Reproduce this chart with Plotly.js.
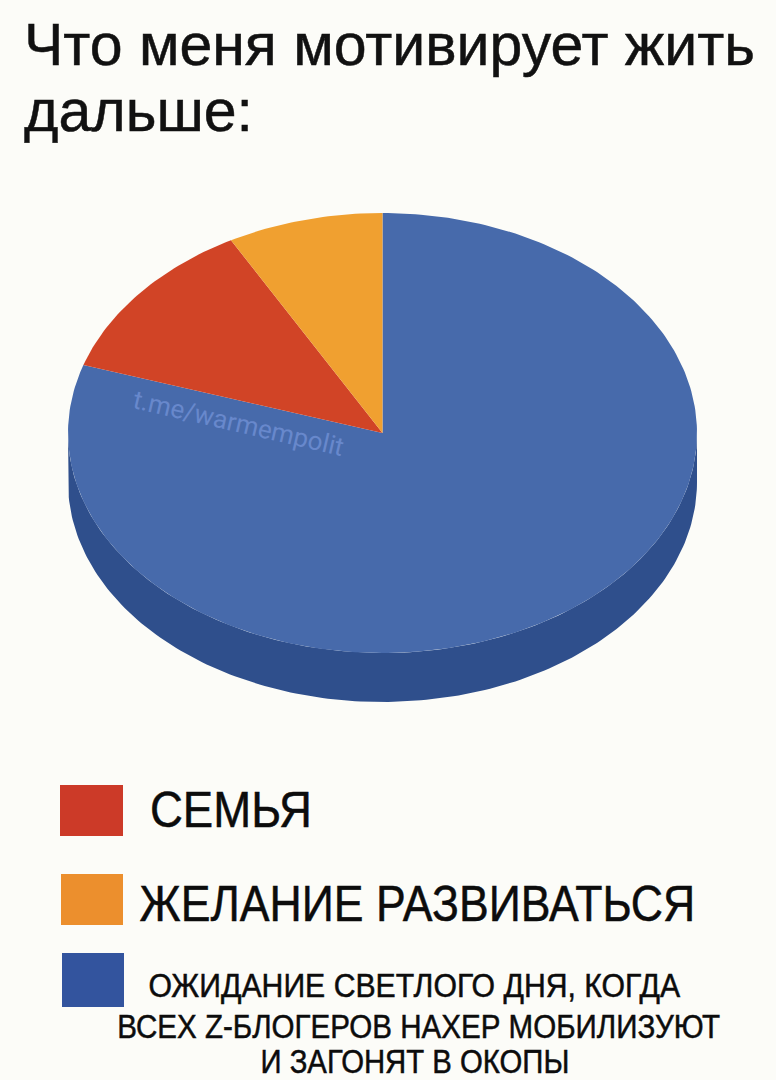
<!DOCTYPE html>
<html><head><meta charset="utf-8">
<script src="https://cdn.plot.ly/plotly-3.0.1.min.js"></script>
<style>html,body{margin:0;padding:0;background:#fcfcf8}</style></head>
<body><div id="chart" style="width:776px;height:1080px"></div>
<script>
// Data
const categories = ["ОЖИДАНИЕ СВЕТЛОГО ДНЯ, КОГДА ВСЕХ Z-БЛОГЕРОВ НАХЕР МОБИЛИЗУЮТ И ЗАГОНЯТ В ОКОПЫ", "СЕМЬЯ", "ЖЕЛАНИЕ РАЗВИВАТЬСЯ"];
const blueLines = ["ОЖИДАНИЕ СВЕТЛОГО ДНЯ, КОГДА", "ВСЕХ Z-БЛОГЕРОВ НАХЕР МОБИЛИЗУЮТ", "И ЗАГОНЯТ В ОКОПЫ"];
const values = [80, 12, 8];
const sliceColors = ["#476aab", "#d14426", "#f0a030"];
const legendColors = ["#33549e", "#cc3a28", "#ec8f2d"];
const sideColor = "#2f4f8c";

// Layout geometry (pixels of the 776x1080 page)
const W = 776, H = 1080, CX = 382.5, CY = 433, RX = 314.5, RY = 220, DEPTH = 49;
const depthU = DEPTH / RY;

function arc(a0, a1, dy) {          // angles clockwise from 12 o'clock, in fractions of the whole
  const xs = [], ys = [], n = Math.max(2, Math.ceil((a1 - a0) * 360));
  for (let i = 0; i <= n; i++) {
    const t = (a0 + (a1 - a0) * i / n) * 2 * Math.PI;
    xs.push(Math.sin(t)); ys.push(Math.cos(t) + dy);
  }
  return [xs, ys];
}

const traces = [];
{
  const [x1, y1] = arc(0.25, 0.75, 0);
  const [x2, y2] = arc(0.25, 0.75, -depthU);
  traces.push({type: "scatter", mode: "lines", x: x1.concat(x2.slice().reverse()), y: y1.concat(y2.slice().reverse()),
    fill: "toself", fillcolor: sideColor, line: {width: 0}, hoverinfo: "skip", showlegend: false});
}
const total = values.reduce((a, b) => a + b, 0);
let acc = 0;
values.forEach((v, i) => {
  const a0 = acc / total, a1 = (acc + v) / total;
  acc += v;
  const [xa, ya] = arc(a0, a1, 0);
  traces.push({type: "scatter", mode: "lines", name: categories[i], x: [0].concat(xa, [0]), y: [0].concat(ya, [0]),
    fill: "toself", fillcolor: sliceColors[i], line: {width: 0}, hoverinfo: "name", showlegend: false});
});

function sq(x0, y0, x1, y1, c) {
  return {type: "rect", xref: "paper", yref: "paper", x0: x0 / W, x1: x1 / W, y0: 1 - y0 / H, y1: 1 - y1 / H,
    fillcolor: c, line: {width: 0}, layer: "above"};
}
function note(text, x, y, size, extra) {
  return Object.assign({text, xref: "paper", yref: "paper", x: x / W, y: 1 - y / H, xanchor: "center", yanchor: "middle",
    showarrow: false, font: {family: "Liberation Sans, Arial, sans-serif", size, color: "#0c0c0c"}}, extra || {});
}

// Target widths of the condensed legend texts, in pixels, same order as the annotations
const textWidths = [162, 556, 532, 603, 309];

const layout = {
  width: W, height: H, margin: {l: 0, r: 0, t: 0, b: 0},
  paper_bgcolor: "#fcfcf8", plot_bgcolor: "rgba(0,0,0,0)", showlegend: false,
  title: {text: "Что меня мотивирует жить<br>дальше:", x: 24 / W, xanchor: "left", y: 1 - 28 / H, yanchor: "top",
    font: {family: "Liberation Sans, Arial, sans-serif", size: 59, color: "#111"}},
  xaxis: {range: [-CX / RX, (W - CX) / RX], visible: false, fixedrange: true},
  yaxis: {range: [-(H - CY) / RY, CY / RY], visible: false, fixedrange: true},
  shapes: [sq(60, 785, 123, 836, legendColors[1]), sq(61, 874, 123, 925, legendColors[2]), sq(62, 953, 124, 1007, legendColors[0])],
  annotations: [
    note(categories[1], 231, 810, 50),
    note(categories[2], 417, 904, 50),
    note(blueLines[0], 414, 985, 33),
    note(blueLines[1], 418, 1026, 33),
    note(blueLines[2], 415, 1061, 33),
    note("t.me/warmempolit", 238, 423, 26, {textangle: 13, font: {family: "Roboto, sans-serif", size: 26, color: "#6888cc"}})
  ]
};
Plotly.newPlot("chart", traces, layout, {displayModeBar: false, staticPlot: true}).then(() => {
  document.querySelectorAll("#chart .annotation-text").forEach((el, i) => {
    if (textWidths[i]) {
      const s = textWidths[i] / el.getComputedTextLength();
      const cx = parseFloat(el.getAttribute("x")) || 0;
      el.setAttribute("transform", "translate(" + cx + ",0) scale(" + s + ",1) translate(" + (-cx) + ",0)");
      el.style.stroke = "#0c0c0c";
      el.style.strokeWidth = "0.5px";
    }
  });
  const t = document.querySelector("#chart .gtitle");
  if (t) {
    t.removeAttribute("transform");
    t.setAttribute("y", 65);
    t.querySelectorAll("tspan.line").forEach((s, i) => {
      s.setAttribute("y", 65 + i * 66);
      s.setAttribute("dy", 0);
    });
    t.style.stroke = "#111";
    t.style.strokeWidth = "0.5px";
  }
});
</script></body></html>
